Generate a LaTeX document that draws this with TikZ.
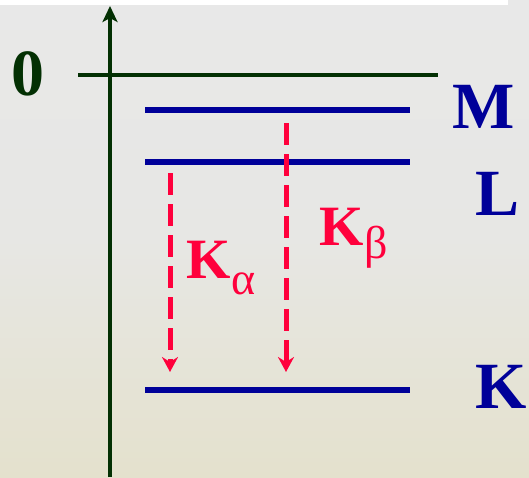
\documentclass[tikz,border=0pt]{standalone}
\usepackage{fontspec}
\setmainfont{Liberation Serif}
\usetikzlibrary{arrows.meta}
\definecolor{axgreen}{RGB}{3,48,3}
\definecolor{lvblue}{RGB}{0,0,153}
\definecolor{trred}{RGB}{255,0,60}
\definecolor{bgtop}{RGB}{232,232,232}
\definecolor{bgmid}{RGB}{231,231,228}
\definecolor{bgbot}{RGB}{228,225,205}
\tikzset{
  lbl/.style={inner sep=0pt, anchor=base, font=\fontsize{66}{66}\selectfont\bfseries},
  klbl/.style={inner sep=0pt, anchor=base, text=trred, font=\fontsize{57}{57}\selectfont\bfseries},
  sub/.style={inner sep=0pt, anchor=base west, text=trred, font=\fontsize{46}{46}\selectfont},
  level/.style={draw=lvblue, line width=6pt},
  zeroline/.style={draw=axgreen, line width=4.5pt},
  axis/.style={draw=axgreen, line width=4pt, -{Stealth[length=16pt,width=15pt,inset=4pt]}},
  trans/.style={draw=trred, line width=5pt, dash pattern=on 22pt off 9pt, -{Stealth[length=15pt,width=16pt,inset=5pt]}}
}
\begin{document}
\begin{tikzpicture}[x=1pt,y=-1pt]
\useasboundingbox (0,0) rectangle (529,477);
\shade[top color=bgtop, bottom color=bgbot, middle color=bgmid] (0,0) rectangle (529,477);
\fill[white] (0,0) rectangle (508,5);
% axis
\coordinate (axb) at (110,477);
\coordinate (axt) at (110,6);
\draw[axis] (axb) -- (axt);
% zero line
\coordinate (z1) at (78,75);
\coordinate (z2) at (438,75);
\draw[zeroline] (z1) -- (z2);
% levels
\coordinate (m1) at (145,110); \coordinate (m2) at (410,110);
\coordinate (l1) at (145,162); \coordinate (l2) at (410,162);
\coordinate (k1) at (145,390); \coordinate (k2) at (410,390);
\draw[level] (m1) -- (m2);
\draw[level] (l1) -- (l2);
\draw[level] (k1) -- (k2);
% labels
\node[lbl, text=axgreen] (zero) at (28,95) {0};
\node[lbl, text=lvblue] (lm) at (484,128) {M};
\node[lbl, text=lvblue] (ll) at (498,215) {L};
\node[lbl, text=lvblue] (lk) at (501,408) {K};
% transitions
\coordinate (a1) at (170,173); \coordinate (a2) at (170,372);
\coordinate (b1) at (286,123); \coordinate (b2) at (286,372);
\draw[trans] (a1) -- (a2);
\draw[trans] (b1) -- (b2);
\node[klbl] (ka) at (209,278) {K};
\node[sub] (alpha) at ([yshift=-16pt]ka.base east) {α};
\node[klbl] (kb) at (342,245) {K};
\node[sub] (beta) at ([yshift=-13pt]kb.base east) {β};
\end{tikzpicture}
\end{document}
